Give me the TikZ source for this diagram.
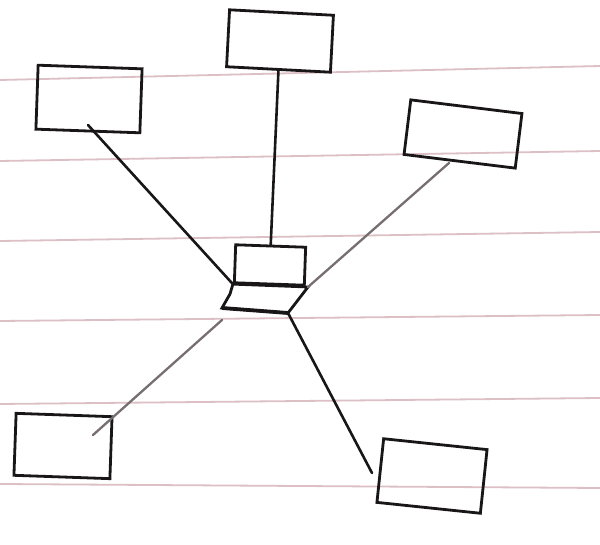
\documentclass[tikz,border=0pt]{standalone}
\usetikzlibrary{positioning}

\definecolor{ruling}{RGB}{220,192,197}
\definecolor{ink}{RGB}{25,22,24}
\definecolor{pencil}{RGB}{118,110,112}

\begin{document}
\begin{tikzpicture}[
  x=1pt, y=-1pt,
  box/.style={rectangle, draw=ink, line width=2.8pt, inner sep=0pt},
  rule/.style={draw=ruling, line width=1.8pt},
  wire/.style={draw=ink, line width=2.6pt, line cap=round},
  faint/.style={draw=pencil, line width=2.3pt, line cap=round}
]
\useasboundingbox[fill=white] (0,0) rectangle (600,545);

% paper lines
\draw[rule] (0,80) -- (600,66);
\draw[rule] (0,161) -- (600,151);
\draw[rule] (0,241) -- (600,232);
\draw[rule] (0,321) -- (600,315);
\draw[rule] (0,404) -- (600,398);
\draw[rule] (0,484) -- (600,488);

% outer boxes
\node[box, minimum width=104pt, minimum height=64pt, rotate=-2] (tl) at (89,99) {};
\node[box, minimum width=104pt, minimum height=57pt, rotate=-3] (top) at (280,41) {};
\node[box, minimum width=112pt, minimum height=55pt, rotate=-7] (tr) at (463,134) {};
\node[box, minimum width=96pt, minimum height=62pt, rotate=-2] (bl) at (63,446) {};
\node[box, minimum width=104pt, minimum height=64pt, rotate=-6] (br) at (432,476) {};

% hub: screen and base
\node[box, minimum width=70pt, minimum height=38pt, rotate=-2] (scr) at (270,265) {};
\coordinate (b1) at (230,294);
\coordinate (b2) at (308,287);
\coordinate (b3) at (288,313);
\coordinate (b4) at (222,308);
\draw[box] (scr.south west) -- (b2) -- (b3) -- (b4) -- (b1) -- cycle;
\draw[ink, line width=3.8pt] (b4) -- (b3);

% free ends
\coordinate (tlend) at (88,125);
\coordinate (trend) at (449,163);
\coordinate (blend) at (93,435);
\coordinate (brend) at (372,473);
\coordinate (b5) at (222,320);

% links
\draw[wire] (tlend) -- (scr.south west);
\draw[wire] (top.south) -- (scr.north);
\draw[faint] (trend) -- (b2);
\draw[faint] (b5) -- (blend);
\draw[wire] (b3) -- (brend);
\end{tikzpicture}
\end{document}
